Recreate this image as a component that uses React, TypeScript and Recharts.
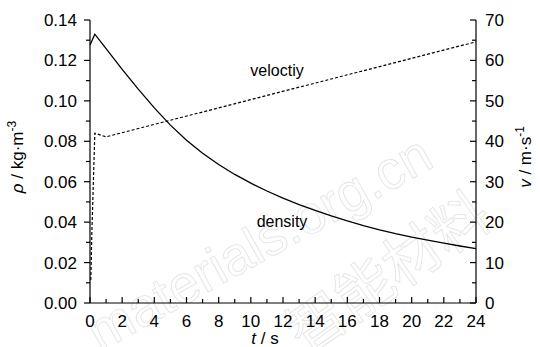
import { Line, LineChart, ReferenceDot, XAxis, YAxis } from 'recharts'

// time (s) and density (kg/m^3)
const densityT = [0, 0.3, 1, 2, 3, 4, 5, 6, 7, 8, 9, 10, 11, 12, 13, 14, 15, 16, 17, 18, 19, 20, 21, 22, 23, 24]
const densityV = [
  0.1276, 0.133, 0.1258, 0.1156, 0.1058, 0.0965, 0.088, 0.0805, 0.0741, 0.0685, 0.0636, 0.0593, 0.0554, 0.0519,
  0.0487, 0.0458, 0.0431, 0.0406, 0.0383, 0.0362, 0.0343, 0.0326, 0.0311, 0.0296, 0.0282, 0.0269,
]
// time (s) and velocity (m/s)
const velocityT = [0.05, 0.12, 0.3, 1, 4.6, 24]
const velocityV = [5.7, 18, 42, 41.1, 44.8, 64.6]

const xTicks = [0, 1, 2, 3, 4, 5, 6, 7, 8, 9, 10, 11, 12, 13, 14, 15, 16, 17, 18, 19, 20, 21, 22, 23, 24]
const rhoTicks = [0, 0.01, 0.02, 0.03, 0.04, 0.05, 0.06, 0.07, 0.08, 0.09, 0.1, 0.11, 0.12, 0.13, 0.14]
const vTicks = [0, 5, 10, 15, 20, 25, 30, 35, 40, 45, 50, 55, 60, 65, 70]

const data = [
  ...densityT.map((t, i) => ({ t, rho: densityV[i] })),
  ...velocityT.map((t, i) => ({ t, v: velocityV[i] })),
].sort((a, b) => a.t - b.t)

const FONT = '"Liberation Sans", Arial, sans-serif'

function BottomTick({ x, y, payload, index }: any) {
  const major = index % 2 === 0
  return (
    <g>
      <line x1={x} x2={x} y1={y} y2={y - (major ? 6 : 4)} stroke="#000" strokeWidth={1.2} />
      {major && (
        <text x={x} y={y + 24} textAnchor="middle" fontSize={17} fontFamily={FONT} fill="#000">
          {payload.value}
        </text>
      )}
    </g>
  )
}

function LeftTick({ x, y, payload, index }: any) {
  const major = index % 2 === 0
  return (
    <g>
      <line x1={x - (major ? 6 : 4)} x2={x} y1={y} y2={y} stroke="#000" strokeWidth={1.2} />
      {major && (
        <text x={x - 13} y={y + 6} textAnchor="end" fontSize={17} fontFamily={FONT} fill="#000">
          {payload.value.toFixed(2)}
        </text>
      )}
    </g>
  )
}

function RightTick({ x, y, payload, index }: any) {
  const major = index % 2 === 0
  return (
    <g>
      <line x1={x - (major ? 6 : 4)} x2={x} y1={y} y2={y} stroke="#000" strokeWidth={1.2} />
      {major && (
        <text x={x + 9} y={y + 6} textAnchor="start" fontSize={17} fontFamily={FONT} fill="#000">
          {payload.value}
        </text>
      )}
    </g>
  )
}

export default function App() {
  return (
    <div style={{ position: 'absolute', left: 0, top: 0, width: 540, height: 347, background: '#fff' }}>
      <svg width={540} height={347} style={{ position: 'absolute', left: 0, top: 0 }}>
        {/* watermark */}
        <text
          transform="translate(100,352) rotate(-29)"
          fontSize={54}
          fontFamily={FONT}
          fill="none"
          stroke="#e2e2e2"
          strokeWidth={0.8}
        >
          materials.org.cn
        </text>
        <text
          transform="translate(305,356) rotate(-35)"
          fontSize={58}
          fontFamily='"Noto Sans CJK SC", sans-serif'
          fill="none"
          stroke="#e2e2e2"
          strokeWidth={0.8}
        >
          智能材料
        </text>
      </svg>
      <LineChart
        width={540}
        height={347}
        data={data}
        margin={{ top: 20, right: 0, bottom: 0, left: 0 }}
        style={{ position: 'absolute', left: 0, top: 0 }}
      >
        <XAxis
          dataKey="t"
          type="number"
          domain={[0, 24]}
          ticks={xTicks}
          interval={0}
          height={44}
          tickSize={0}
          tickMargin={0}
          tickLine={false}
          tick={<BottomTick />}
          axisLine={{ stroke: '#000', strokeWidth: 1.2 }}
        />
        <YAxis
          yAxisId="rho"
          domain={[0, 0.14]}
          ticks={rhoTicks}
          interval={0}
          width={90}
          tickSize={0}
          tickMargin={0}
          tickLine={false}
          tick={<LeftTick />}
          axisLine={{ stroke: '#000', strokeWidth: 1.2 }}
        />
        <YAxis
          yAxisId="v"
          orientation="right"
          domain={[0, 70]}
          ticks={vTicks}
          interval={0}
          width={64}
          tickSize={0}
          tickMargin={0}
          tickLine={false}
          tick={<RightTick />}
          axisLine={{ stroke: '#000', strokeWidth: 1.2 }}
        />
        <Line
          yAxisId="rho"
          dataKey="rho"
          type="linear"
          stroke="#000"
          strokeWidth={1.3}
          dot={false}
          connectNulls
          isAnimationActive={false}
        />
        <Line
          yAxisId="v"
          dataKey="v"
          type="linear"
          stroke="#000"
          strokeWidth={1.2}
          strokeDasharray="3 2"
          dot={false}
          connectNulls
          isAnimationActive={false}
        />
        <ReferenceDot
          yAxisId="v"
          x={11.63}
          y={57.6}
          r={0}
          fill="none"
          stroke="none"
          label={{ value: 'veloctiy', position: 'center', fontSize: 16, fontFamily: FONT, fill: '#000' }}
        />
        <ReferenceDot
          yAxisId="rho"
          x={11.94}
          y={0.0406}
          r={0}
          fill="none"
          stroke="none"
          label={{ value: 'density', position: 'center', fontSize: 16, fontFamily: FONT, fill: '#000' }}
        />
      </LineChart>
      <svg width={540} height={347} style={{ position: 'absolute', left: 0, top: 0, pointerEvents: 'none' }}>
        <text x={265} y={344} textAnchor="middle" fontSize={17} fontFamily={FONT} fill="#000">
          <tspan fontStyle="italic">t</tspan> / s
        </text>
        <text
          transform="translate(23,157) rotate(-90)"
          textAnchor="middle"
          fontSize={17}
          fontFamily={FONT}
          fill="#000"
        >
          <tspan fontStyle="italic">ρ</tspan> / kg·m
          <tspan dy={-7} fontSize={12}>
            -3
          </tspan>
        </text>
        <text
          transform="translate(531,157) rotate(-90)"
          textAnchor="middle"
          fontSize={17}
          fontFamily={FONT}
          fill="#000"
        >
          <tspan fontStyle="italic">v</tspan> / m·s
          <tspan dy={-7} fontSize={12}>
            -1
          </tspan>
        </text>
      </svg>
    </div>
  )
}
